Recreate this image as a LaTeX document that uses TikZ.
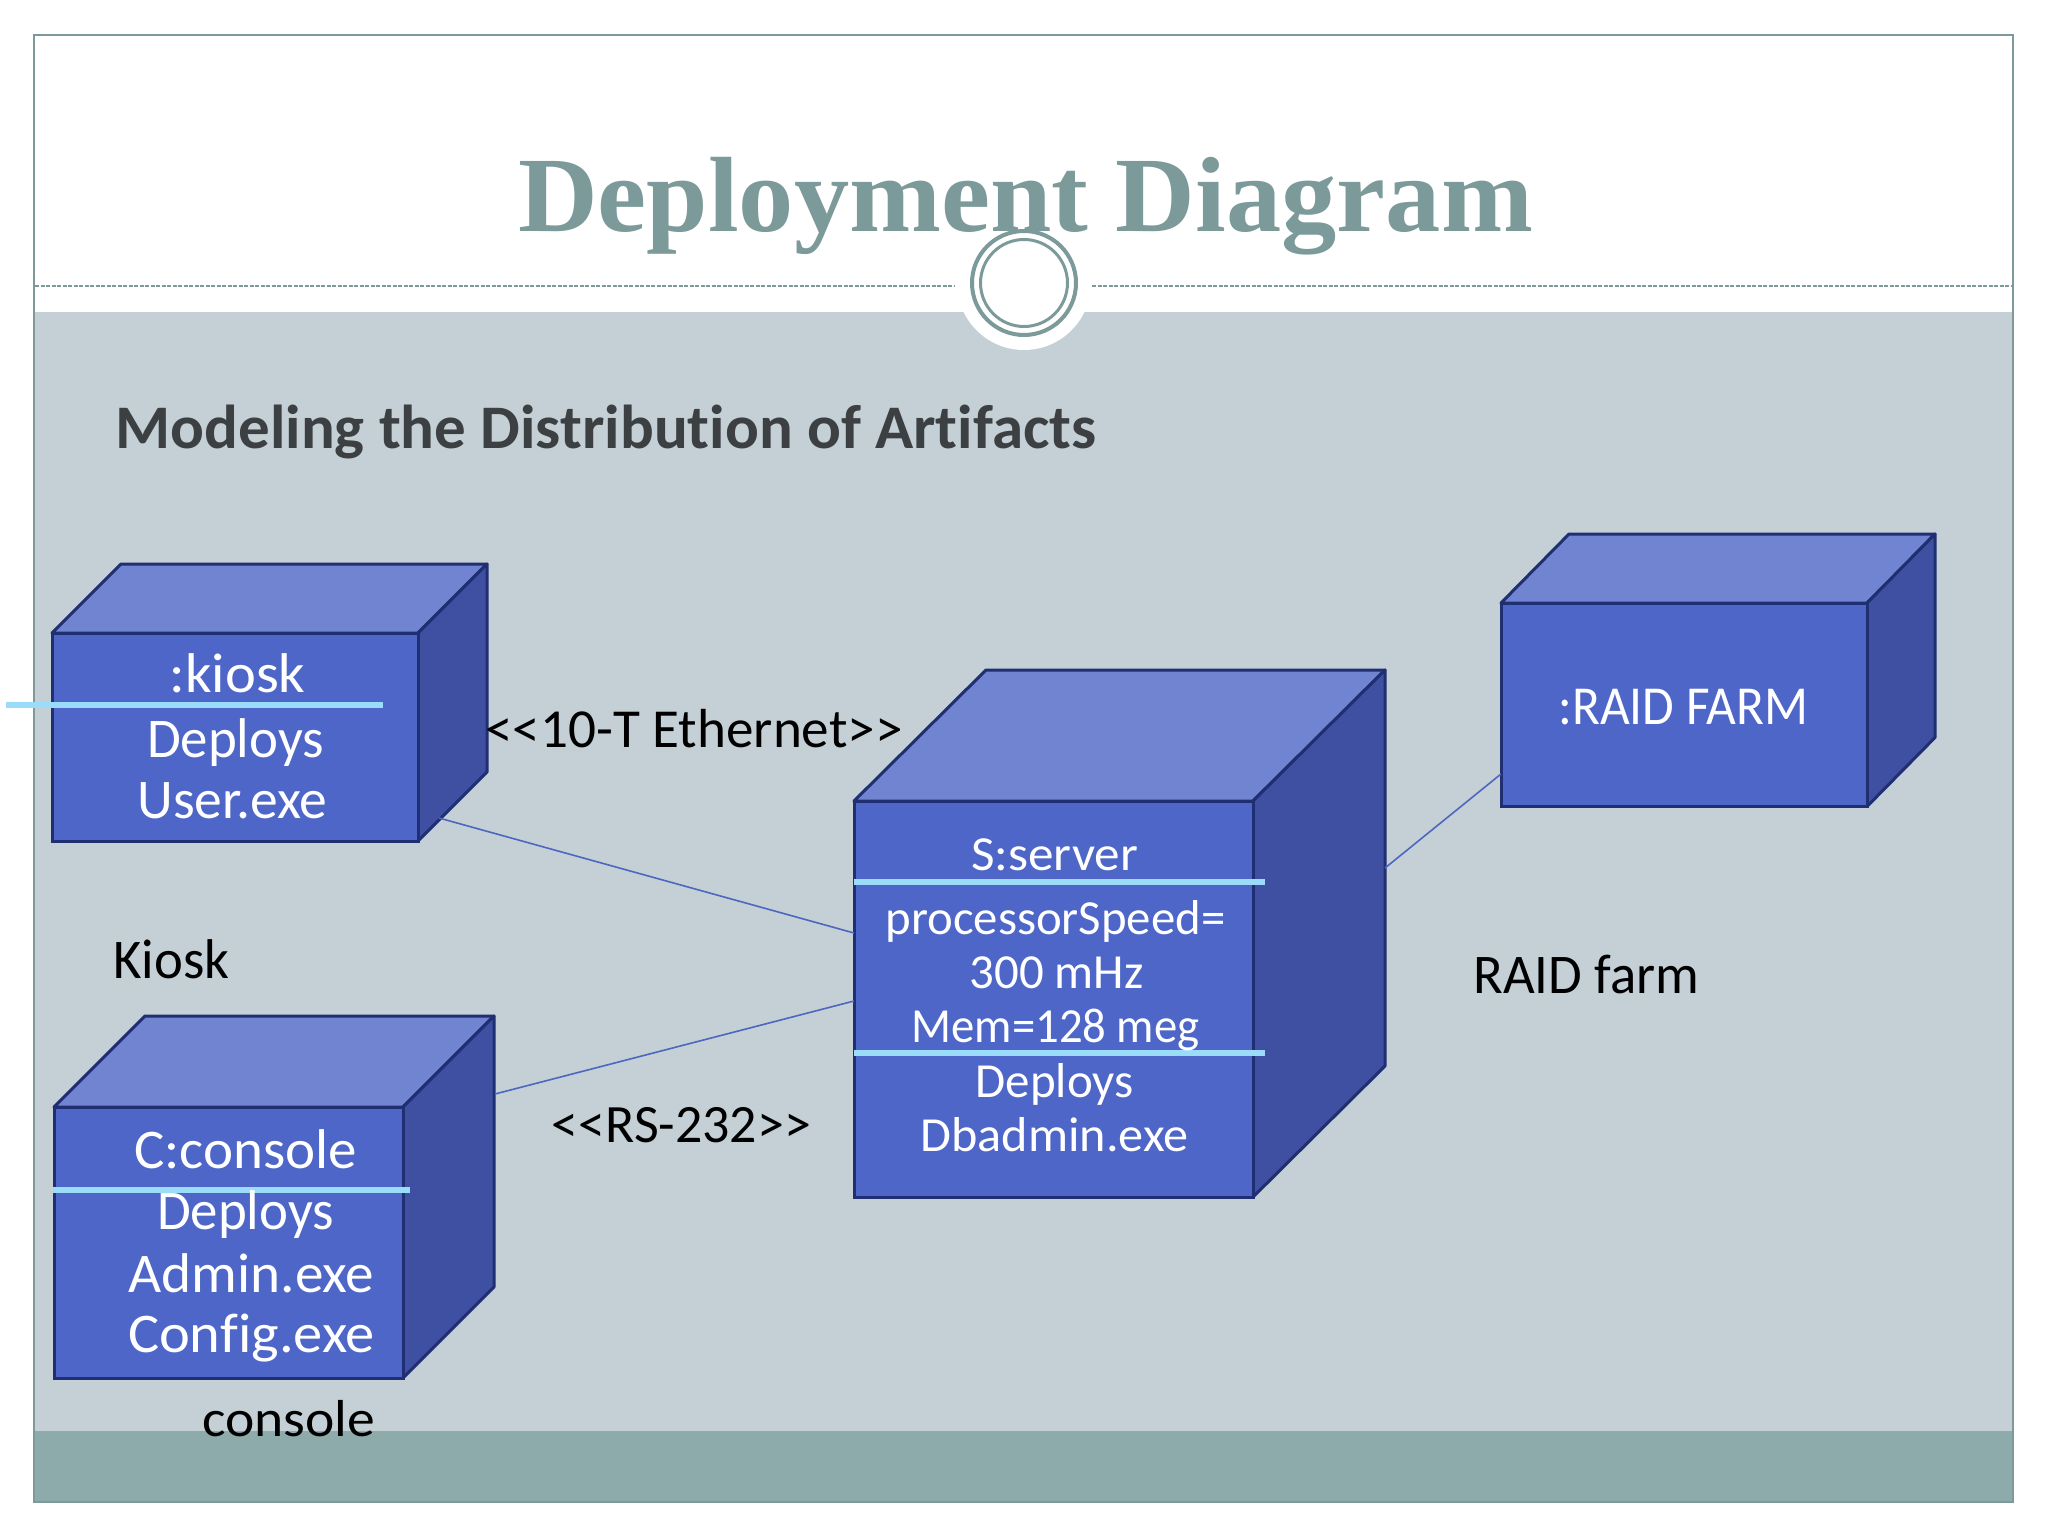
\documentclass[tikz,border=0pt]{standalone}
\usepackage{fontspec}
\usepackage{graphicx}
\usetikzlibrary{calc}
\setmainfont[Ligatures=NoCommon]{Carlito}
\newfontfamily\titlefont{Liberation Serif}
\definecolor{faceblue}{HTML}{4D66C7}
\definecolor{topblue}{HTML}{7084D1}
\definecolor{sideblue}{HTML}{3F50A2}
\definecolor{edgeblue}{HTML}{1F2F72}
\definecolor{seplight}{HTML}{9BDCFB}
\definecolor{bandgrey}{HTML}{C4D0D6}
\definecolor{footgreen}{HTML}{8EABAB}
\definecolor{titlegreen}{HTML}{7C9A9A}
\definecolor{subdark}{HTML}{3D4042}
\definecolor{linkblue}{HTML}{4D66C0}
\tikzset{
  lab/.style={anchor=base,inner sep=0pt,outer sep=0pt},
  white lab/.style={lab,text=white},
  black lab/.style={lab,text=black},
  topface/.style={fill=topblue,draw=edgeblue,line width=3pt,line join=round},
  sideface/.style={fill=sideblue,draw=edgeblue,line width=3pt,line join=round},
  frontface/.style={rectangle,fill=faceblue,draw=edgeblue,line width=3pt,inner sep=0pt,outer sep=0pt},
  sep/.style={draw=seplight,line width=5.5pt},
  link/.style={draw=linkblue,line width=1.6pt},
}
% name, left, top, right, bottom, dx, dy
\newcommand{\cubeshape}[7]{%
  \fill[topface] (#2,#3) -- ({#2+#6},{#3-#7}) -- ({#4+#6},{#3-#7}) -- (#4,#3) -- cycle;
  \fill[sideface] (#4,#3) -- ({#4+#6},{#3-#7}) -- ({#4+#6},{#5-#7}) -- (#4,#5) -- cycle;
  \node[frontface,minimum width={(#4-#2)*1pt},minimum height={(#5-#3)*1pt}] (#1) at ({(#2+#4)/2},{(#3+#5)/2}) {};
}
% name, x, baseline, width, size, style, text
\newcommand{\lbl}[7]{%
  \node[#6] (#1) at ({#2+0.5},{#3+1}) {\resizebox{\dimexpr#4pt+4pt\relax}{\height}{\fontsize{#5pt}{#5pt}\selectfont #7}};
}
\begin{document}
\begin{tikzpicture}[x=1pt,y=-1pt]
\useasboundingbox (0,0) rectangle (2048,1536);
\fill[white] (0,0) rectangle (2048,1536);
% slide
\fill[bandgrey] (34,312) rectangle (2013,1431);
\fill[footgreen] (34,1431) rectangle (2013,1502);
\draw[titlegreen,line width=1.6pt] (34,35) rectangle (2013,1502);
\fill[white] (1024,283) circle[radius=67];
\coordinate (dashA) at (35,286);
\coordinate (dashB) at (955,286);
\coordinate (dashC) at (1092,286);
\coordinate (dashD) at (2012,286);
\draw[titlegreen,line width=1.6pt,dash pattern=on 4pt off 1.5pt] (dashA) -- (dashB);
\draw[titlegreen,line width=1.6pt,dash pattern=on 4pt off 1.5pt] (dashC) -- (dashD);
\lbl{title}{1025}{230}{1011}{107}{lab,text=titlegreen}{\titlefont\bfseries Deployment Diagram}
\node[circle,draw=titlegreen,line width=4pt,fill=white,minimum size=104pt,inner sep=0pt] (ringout) at (1024,283) {};
\node[circle,draw=titlegreen,line width=3pt,minimum size=87pt,inner sep=0pt] (ringin) at (1024,283) {};
\lbl{subtitle}{605.5}{447}{977}{62}{lab,text=subdark}{\bfseries Modeling the Distribution of Artifacts}
% cubes
\cubeshape{kiosk}{52}{633}{418}{841}{69}{69}
\cubeshape{console}{54}{1107}{403}{1378}{91}{91}
\cubeshape{server}{854}{801}{1253}{1197}{132}{131}
\cubeshape{raid}{1501}{603}{1867}{806.5}{68}{69}
% connectors
\coordinate (kioskPort) at ($(kiosk.south east)+(21,-23)$);
\coordinate (serverPortA) at ($(server.north west)+(0,132)$);
\coordinate (consolePort) at ($(console.north east)+(92,-13)$);
\coordinate (serverPortB) at ($(server.north west)+(0,200)$);
\coordinate (serverPortC) at ($(server.north east)+(132,67)$);
\coordinate (raidPort) at ($(raid.north west)+(0,171)$);
\draw[link] (kioskPort) -- (serverPortA);
\draw[link] (consolePort) -- (serverPortB);
\draw[link] (serverPortC) -- (raidPort);
% separators
\coordinate (kSepL) at (6,705);
\coordinate (kSepR) at (383,705);
\coordinate (cSepL) at (53,1190);
\coordinate (cSepR) at (410,1190);
\coordinate (sSepAL) at (854,882);
\coordinate (sSepAR) at (1265,882);
\coordinate (sSepBL) at (854,1053);
\coordinate (sSepBR) at (1265,1053);
\draw[sep] (kSepL) -- (kSepR);
\draw[sep] (cSepL) -- (cSepR);
\draw[sep] (sSepAL) -- (sSepAR);
\draw[sep] (sSepBL) -- (sSepBR);
% kiosk text
\lbl{k1}{237}{691}{132}{56}{white lab}{:kiosk}
\lbl{k2}{235}{756}{173}{56}{white lab}{Deploys}
\lbl{k3}{232}{817}{186}{56}{white lab}{User.exe}
\lbl{kl}{171}{977}{112}{56}{black lab}{Kiosk}
\lbl{eth}{693.5}{746}{413}{55}{black lab}{<{}<10-T Ethernet>{}>}
% console text
\lbl{c1}{245}{1167}{219}{56}{white lab}{C:console}
\lbl{c2}{245}{1228}{173}{56}{white lab}{Deploys}
\lbl{c3}{251}{1291}{242}{56}{white lab}{Admin.exe}
\lbl{c4}{251}{1351}{243}{56}{white lab}{Config.exe}
\lbl{cl}{288}{1435}{169}{52}{black lab}{console}
\lbl{rs}{681}{1141}{255}{54}{black lab}{<{}<RS-232>{}>}
% server text
\lbl{s1}{1054}{869}{163}{49}{white lab}{S:server}
\lbl{s2}{1055}{933}{336}{49}{white lab}{processorSpeed=}
\lbl{s3}{1056}{987}{170}{49}{white lab}{300 mHz}
\lbl{s4}{1055}{1041}{284}{49}{white lab}{Mem=128 meg}
\lbl{s5}{1054}{1096}{154}{49}{white lab}{Deploys}
\lbl{s6}{1054}{1150}{264}{49}{white lab}{Dbadmin.exe}
% raid text
\lbl{r1}{1683}{723}{246}{55}{white lab}{:RAID FARM}
\lbl{rl}{1586}{992}{222}{56}{black lab}{RAID farm}
\end{tikzpicture}
\end{document}
